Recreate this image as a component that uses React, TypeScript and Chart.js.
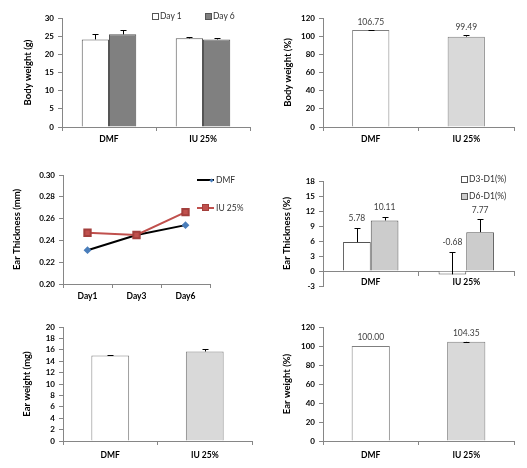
import React, { useEffect, useRef } from "react";
import { Chart, registerables } from "chart.js";
Chart.register(...registerables);

// ---------- data ----------
const groups = ["DMF", "IU 25%"];
const bwDay1 = [24.1, 24.4];
const bwDay1Err = [1.4, 0.4];
const bwDay6 = [25.5, 24.1];
const bwDay6Err = [1.1, 0.5];
const bwPct = [106.75, 99.49];
const bwPctErr = [0.4, 1.8];
const days = ["Day1", "Day3", "Day6"];
const etDMF = [0.231, 0.245, 0.254];
const etIU = [0.247, 0.245, 0.266];
const etD3 = [5.78, -0.68];
const etD3Err = [2.88, 4.55];
const etD6 = [10.11, 7.77];
const etD6Err = [0.75, 2.56];
const ewMg = [15.0, 15.7];
const ewMgErr = [0.05, 0.4];
const ewPct = [100.0, 104.35];
const ewPctErr = [0, 0.3];

const FONT = "Lato, 'Open Sans', sans-serif";
const AXIS = "#868686";
const BORDER = "#555555";

type Area = { l: number; r: number; t: number; b: number };

const errorPlugin = {
  id: "errbars",
  afterDatasetsDraw(chart: any, _args: any, opts: any) {
    const ctx = chart.ctx;
    const ys = chart.scales.y;
    chart.data.datasets.forEach((ds: any, i: number) => {
      const meta = chart.getDatasetMeta(i);
      meta.data.forEach((el: any, j: number) => {
        const v = ds.data[j];
        const e = ds.errors ? ds.errors[j] : 0;
        const top = ys.getPixelForValue(v + e);
        ctx.save();
        if (ds.errors && e > 0) {
          const x = Math.round(el.x) + 0.5;
          const yt = Math.round(top) + 0.5;
          ctx.strokeStyle = "#000";
          ctx.lineWidth = 1;
          ctx.beginPath();
          ctx.moveTo(x, ys.getPixelForValue(v));
          ctx.lineTo(x, yt);
          ctx.moveTo(x - 3, yt);
          ctx.lineTo(x + 3, yt);
          ctx.stroke();
        }
        if (ds.showValues) {
          ctx.fillStyle = "#404040";
          ctx.font = `8.5px ${FONT}`;
          ctx.textAlign = "center";
          ctx.textBaseline = "middle";
          ctx.fillText(Number(v).toFixed(2), el.x, top - (opts.labelOffset || 9));
        }
        ctx.restore();
      });
    });
  },
};

function yAxis(area: Area, min: number, max: number, step: number, dec: number, title: string, titlePad: number) {
  return {
    min,
    max,
    ticks: {
      stepSize: step,
      autoSkip: false,
      color: "#000",
      padding: 4,
      font: { family: FONT, size: 8, weight: "bold" },
      callback: (v: any) => Number(v).toFixed(dec),
    },
    grid: { drawOnChartArea: false, drawTicks: true, tickLength: 4, color: AXIS },
    border: { display: true, color: AXIS },
    title: {
      display: true,
      text: title,
      color: "#000",
      font: { family: FONT, size: 9.5, weight: "bold" },
      padding: { top: titlePad, bottom: 0 },
    },
    afterFit: (s: any) => {
      s.width = area.l;
    },
  };
}

function xAxis(h: number, area: Area, pad: number, extra: any = {}) {
  return {
    offset: true,
    ticks: { color: "#000", padding: pad, font: { family: FONT, size: 8.5, weight: "bold" } },
    grid: { drawOnChartArea: false, drawTicks: true, tickLength: 4, color: AXIS, offset: true },
    border: { display: true, color: AXIS },
    afterFit: (s: any) => {
      s.height = h - area.b;
    },
    ...extra,
  };
}

function baseOptions(w: number, area: Area, bottomPad = 0) {
  return {
    responsive: false,
    animation: false,
    events: [],
    layout: { padding: { left: 0, top: area.t, right: w - area.r, bottom: bottomPad } },
    plugins: { legend: { display: false }, tooltip: { enabled: false } },
  };
}

function Panel(props: { left: number; top: number; w: number; h: number; make: () => any }) {
  const ref = useRef<HTMLCanvasElement>(null);
  useEffect(() => {
    const chart = new Chart(ref.current as HTMLCanvasElement, props.make());
    return () => chart.destroy();
  }, []);
  return (
    <div style={{ position: "absolute", left: props.left, top: props.top, width: props.w, height: props.h }}>
      <canvas ref={ref} width={props.w} height={props.h} style={{ width: props.w, height: props.h, display: "block" }} />
    </div>
  );
}

const legendText: React.CSSProperties = {
  position: "absolute",
  fontFamily: FONT,
  fontSize: 8.5,
  color: "#333",
  lineHeight: "10px",
  whiteSpace: "nowrap",
};

function Box({ x, y, fill }: { x: number; y: number; fill: string }) {
  return (
    <div
      style={{
        position: "absolute",
        left: x,
        top: y - 3,
        width: 5,
        height: 5,
        background: fill,
        border: `1px solid ${BORDER}`,
      }}
    />
  );
}

// ---------- panel configs ----------
const A1: Area = { l: 62, r: 250, t: 18, b: 127 };
const A2: Area = { l: 59, r: 250, t: 18, b: 127 };
const A3: Area = { l: 63, r: 210, t: 20, b: 129 };
const A4: Area = { l: 59, r: 250, t: 26, b: 131 };
const A5: Area = { l: 63, r: 252, t: 17, b: 131 };
const A6: Area = { l: 59, r: 250, t: 17, b: 131 };

const make1 = () => ({
  type: "bar",
  data: {
    labels: groups,
    datasets: [
      { label: "Day 1", data: bwDay1, errors: bwDay1Err, backgroundColor: "#ffffff", borderColor: BORDER, borderWidth: 1, categoryPercentage: 0.58, barPercentage: 1 },
      { label: "Day 6", data: bwDay6, errors: bwDay6Err, backgroundColor: "#808080", borderColor: BORDER, borderWidth: 1, categoryPercentage: 0.58, barPercentage: 1 },
    ],
  },
  options: {
    ...baseOptions(264, A1),
    scales: { x: xAxis(155, A1, 3), y: yAxis(A1, 0, 30, 5, 0, "Body weight (g)", 22) },
  },
  plugins: [errorPlugin],
});

const make2 = () => ({
  type: "bar",
  data: {
    labels: groups,
    datasets: [
      { data: bwPct, errors: bwPctErr, showValues: true, backgroundColor: ["#ffffff", "#d9d9d9"], borderColor: "#7f7f7f", borderWidth: 1, categoryPercentage: 0.39, barPercentage: 1 },
    ],
  },
  options: {
    ...baseOptions(263, A2),
    plugins: { legend: { display: false }, tooltip: { enabled: false }, errbars: { labelOffset: 7.5 } },
    scales: { x: xAxis(155, A2, 3), y: yAxis(A2, 0, 120, 20, 0, "Body weight (%)", 18) },
  },
  plugins: [errorPlugin],
});

const make3 = () => ({
  type: "line",
  data: {
    labels: days,
    datasets: [
      { label: "DMF", data: etDMF, order: 1, borderColor: "#000000", borderWidth: 2, pointStyle: "rectRot", pointRadius: 2.5, pointBackgroundColor: "#4a7ebb", pointBorderColor: "#4a7ebb", tension: 0 },
      { label: "IU 25%", data: etIU, order: 0, borderColor: "#c0504d", borderWidth: 2, pointStyle: "rect", pointRadius: 4.5, pointBackgroundColor: "#c0504d", pointBorderColor: "#a33f3c", tension: 0 },
    ],
  },
  options: {
    ...baseOptions(264, A3),
    scales: { x: xAxis(155, A3, 3), y: yAxis(A3, 0.2, 0.3, 0.02, 2, "Ear Thickness (mm)", 11) },
  },
});

const make4 = () => ({
  type: "bar",
  data: {
    labels: groups,
    datasets: [
      { label: "D3-D1(%)", data: etD3, errors: etD3Err, showValues: true, backgroundColor: "#ffffff", borderColor: BORDER, borderWidth: 1, categoryPercentage: 0.58, barPercentage: 1 },
      { label: "D6-D1(%)", data: etD6, errors: etD6Err, showValues: true, backgroundColor: "#cccccc", borderColor: BORDER, borderWidth: 1, categoryPercentage: 0.58, barPercentage: 1 },
    ],
  },
  options: {
    ...baseOptions(263, A4, 155 - A4.b),
    plugins: { legend: { display: false }, tooltip: { enabled: false }, errbars: { labelOffset: 9.5 } },
    scales: {
      x: xAxis(155, A4, 2, { position: { y: 0 } }),
      y: yAxis(A4, -3, 18, 3, 0, "Ear Thickness (%)", 17),
    },
  },
  plugins: [errorPlugin],
});

const make5 = () => ({
  type: "bar",
  data: {
    labels: groups,
    datasets: [
      { data: ewMg, errors: ewMgErr, backgroundColor: ["#ffffff", "#d9d9d9"], borderColor: "#7f7f7f", borderWidth: 1, categoryPercentage: 0.4, barPercentage: 1 },
    ],
  },
  options: {
    ...baseOptions(264, A5),
    scales: { x: xAxis(158, A5, 5), y: yAxis(A5, 0, 20, 2, 0, "Ear weight (mg)", 21) },
  },
  plugins: [errorPlugin],
});

const make6 = () => ({
  type: "bar",
  data: {
    labels: groups,
    datasets: [
      { data: ewPct, errors: ewPctErr, showValues: true, backgroundColor: ["#ffffff", "#d9d9d9"], borderColor: "#7f7f7f", borderWidth: 1, categoryPercentage: 0.4, barPercentage: 1 },
    ],
  },
  options: {
    ...baseOptions(263, A6),
    plugins: { legend: { display: false }, tooltip: { enabled: false }, errbars: { labelOffset: 8.5 } },
    scales: { x: xAxis(158, A6, 5), y: yAxis(A6, 0, 120, 20, 0, "Ear weight (%)", 17) },
  },
  plugins: [errorPlugin],
});

export default function App() {
  return (
    <div style={{ position: "relative", width: 527, height: 468, background: "#fff", overflow: "hidden" }}>
      <style>{"html,body{margin:0;padding:0;background:#fff;}"}</style>
      <Panel left={0} top={0} w={264} h={155} make={make1} />
      <Panel left={264} top={0} w={263} h={155} make={make2} />
      <Panel left={0} top={155} w={264} h={155} make={make3} />
      <Panel left={264} top={155} w={263} h={155} make={make4} />
      <Panel left={0} top={310} w={264} h={158} make={make5} />
      <Panel left={264} top={310} w={263} h={158} make={make6} />

      {/* legend panel 1 */}
      <Box x={152} y={16} fill="#ffffff" />
      <div style={{ ...legendText, left: 160, top: 11 }}>Day 1</div>
      <Box x={205} y={16} fill="#808080" />
      <div style={{ ...legendText, left: 213, top: 11 }}>Day 6</div>

      {/* legend panel 3 */}
      <div style={{ position: "absolute", left: 197, top: 179, width: 17, height: 2, background: "#000" }} />
      <div style={{ position: "absolute", left: 210, top: 178.5, width: 3, height: 3, background: "#4a7ebb", transform: "rotate(45deg)" }} />
      <div style={{ ...legendText, left: 216, top: 175 }}>DMF</div>
      <div style={{ position: "absolute", left: 197, top: 207, width: 17, height: 2, background: "#c0504d" }} />
      <div style={{ position: "absolute", left: 202, top: 204, width: 7, height: 7, background: "#c0504d", border: "1px solid #a33f3c", boxSizing: "border-box" }} />
      <div style={{ ...legendText, left: 216, top: 203 }}>IU 25%</div>

      {/* legend panel 4 */}
      <Box x={461} y={179} fill="#ffffff" />
      <div style={{ ...legendText, left: 469, top: 174 }}>D3-D1(%)</div>
      <Box x={461} y={196} fill="#cccccc" />
      <div style={{ ...legendText, left: 469, top: 191 }}>D6-D1(%)</div>
    </div>
  );
}
